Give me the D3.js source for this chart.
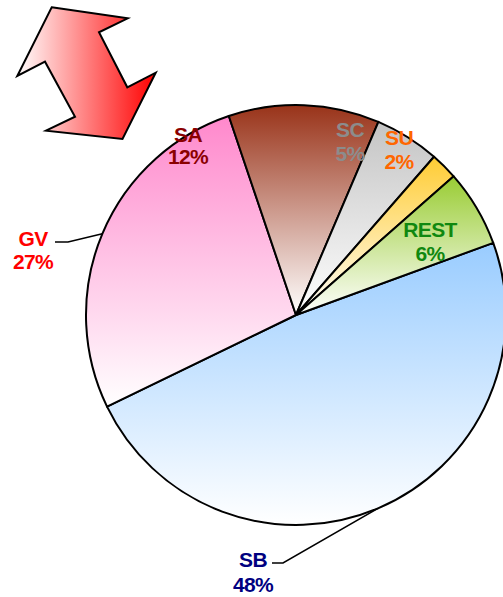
<!DOCTYPE html>
<html>
<head>
<meta charset="utf-8">
<script src="https://cdn.jsdelivr.net/npm/d3@7"></script>
<style>
  html, body { margin: 0; padding: 0; background: #fff; }
  svg { display: block; }
  text { font-family: "Liberation Sans", Arial, sans-serif; font-weight: bold; font-size: 21px; letter-spacing: -0.6px; }
</style>
</head>
<body>
<svg id="chart" width="503" height="597"></svg>
<script>
// ---- data ----
const categories = ["SB", "GV", "SA", "SC", "SU", "REST"];
const values = [48.4, 27.0, 11.6, 5.0, 2.1, 5.9];
const labels = ["48%", "27%", "12%", "5%", "2%", "6%"];

// ---- styling / layout ----
const sliceColors = { SB: "#99ccff", GV: "#ff88cc", SA: "#993319", SC: "#c4c4c4", SU: "#ffcc33", REST: "#99cc33" };
const textColors  = { SB: "#000080", GV: "#ff0000", SA: "#8b0000", SC: "#8c8c8c", SU: "#ff6600", REST: "#108810" };
// label anchors (name baseline, value baseline)
const labelLayout = {
  SB:   { x: 253, y1: 567, y2: 592, leader: { elbowX: 283, endX: 272 } },
  GV:   { x: 33,  y1: 246, y2: 269, leader: { elbowX: 68,  endX: 55 } },
  SA:   { x: 188, y1: 142, y2: 164 },
  SC:   { x: 350, y1: 137, y2: 161 },
  SU:   { x: 399, y1: 145, y2: 169 },
  REST: { x: 430, y1: 237, y2: 261 }
};
const cx = 296, cy = 315, R = 210;
const startDeg = 69.9;

const svg = d3.select("#chart");
const defs = svg.append("defs");

// decorative double arrow
const arrowShape = [[51.7,7.3],[127.7,18.3],[99,32.3],[127.3,87.3],[155.7,72.7],[122.5,139],[46,130.7],[75,116.7],[45,61.7],[17.3,76]];
const ag = defs.append("linearGradient").attr("id", "arrowGrad")
  .attr("x1", "0").attr("y1", "0").attr("x2", "1").attr("y2", "0");
ag.append("stop").attr("offset", "0").attr("stop-color", "#ffffff");
ag.append("stop").attr("offset", "1").attr("stop-color", "#ff0000");
svg.append("path")
  .attr("d", d3.line().curve(d3.curveLinearClosed)(arrowShape))
  .attr("fill", "url(#arrowGrad)")
  .attr("stroke", "#000").attr("stroke-width", 2).attr("stroke-linejoin", "miter");

// gradients per slice
categories.forEach(c => {
  const g = defs.append("linearGradient").attr("id", "g_" + c)
    .attr("x1", "0").attr("y1", "0").attr("x2", "0").attr("y2", "1");
  g.append("stop").attr("offset", "0").attr("stop-color", sliceColors[c]);
  g.append("stop").attr("offset", "1").attr("stop-color", "#ffffff");
});

const pie = d3.pie().sort(null).value(d => d.v)
  .startAngle(startDeg * Math.PI / 180)
  .endAngle(startDeg * Math.PI / 180 + 2 * Math.PI);
const data = categories.map((c, i) => ({ c, v: values[i], label: labels[i] }));
const arcs = pie(data);
const arc = d3.arc().innerRadius(0).outerRadius(R);

const g = svg.append("g").attr("transform", `translate(${cx},${cy})`);
g.selectAll("path.slice").data(arcs).join("path")
  .attr("class", "slice")
  .attr("d", arc)
  .attr("fill", d => `url(#g_${d.data.c})`)
  .attr("stroke", "#000").attr("stroke-width", 2).attr("stroke-linejoin", "round");

// leader lines
arcs.forEach(a => {
  const L = labelLayout[a.data.c];
  if (!L.leader) return;
  const mid = (a.startAngle + a.endAngle) / 2;
  const ex = cx + R * Math.sin(mid), ey = cy - R * Math.cos(mid);
  const ly = (L.y1 - 4);
  svg.append("path")
    .attr("d", d3.line()([[L.leader.endX, ly], [L.leader.elbowX, ly], [ex, ey]]))
    .attr("fill", "none").attr("stroke", "#000").attr("stroke-width", 1.5);
});

// labels
arcs.forEach(a => {
  const L = labelLayout[a.data.c];
  const t = svg.append("g").attr("fill", textColors[a.data.c]).attr("text-anchor", "middle");
  t.append("text").attr("x", L.x).attr("y", L.y1).text(a.data.c);
  t.append("text").attr("x", L.x).attr("y", L.y2).text(a.data.label);
});
</script>
</body>
</html>
